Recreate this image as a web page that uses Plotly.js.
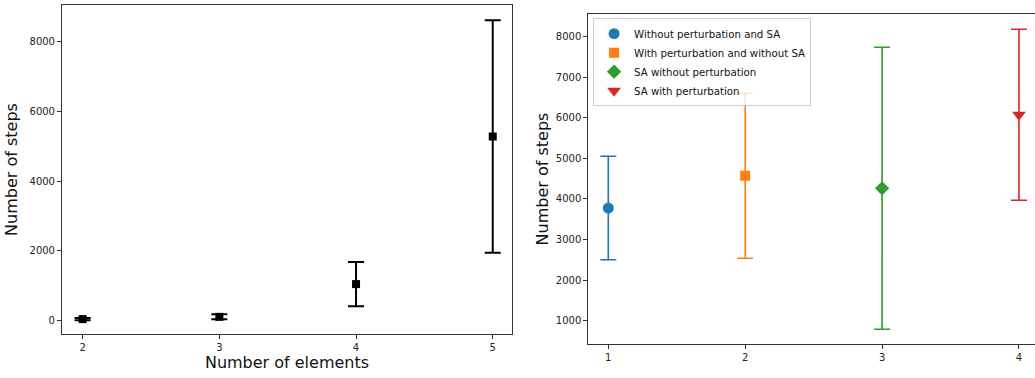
<!DOCTYPE html>
<html>
<head>
<meta charset="utf-8">
<script src="https://cdn.plot.ly/plotly-3.0.1.min.js"></script>
<style>html,body{margin:0;padding:0;background:#fff}#chart{width:1035px;height:378px}</style>
</head>
<body>
<div id="chart"></div>
<script>
// Left panel: number of elements vs number of steps
var elements = [2, 3, 4, 5];
var stepsMean = [45, 110, 1050, 5285];
var stepsErr = [35, 72, 635, 3335];

// Right panel: four methods
var methodNames = ["Without perturbation and SA", "With perturbation and without SA", "SA without perturbation", "SA with perturbation"];
var methodX = [1, 2, 3, 4];
var methodMean = [3777, 4571, 4263, 6075];
var methodErr = [1275, 2033, 3475, 2108];
var methodColors = ["#1f77b4", "#ff7f0e", "#2ca02c", "#d62728"];
var methodSymbols = ["circle", "square", "diamond", "triangle-down"];
var methodSizes = [11, 10, 11, 12];

var traces = [{
  x: elements, y: stepsMean, type: "scatter", mode: "markers",
  xaxis: "x", yaxis: "y", showlegend: false,
  marker: {symbol: "square", size: 8, color: "#000"},
  error_y: {type: "data", array: stepsErr, visible: true, color: "#000", thickness: 2, width: 8}
}];
for (var i = 0; i < methodNames.length; i++) {
  traces.push({
    x: [methodX[i]], y: [methodMean[i]], type: "scatter", mode: "markers",
    name: methodNames[i], xaxis: "x2", yaxis: "y2",
    marker: {symbol: methodSymbols[i], size: methodSizes[i], color: methodColors[i]},
    error_y: {type: "data", array: [methodErr[i]], visible: true, color: methodColors[i], thickness: 1.6, width: 8}
  });
}

var tickFont = {family: "DejaVu Sans", size: 10, color: "#222"};
var titleFont = {family: "DejaVu Sans", size: 16, color: "#111"};
var axBase = {showgrid: false, zeroline: false, showline: true, linecolor: "#333", linewidth: 1,
  ticks: "outside", ticklen: 4, tickcolor: "#333", tickfont: tickFont, automargin: false};

var layout = {
  width: 1035, height: 378,
  margin: {l: 0, r: 0, t: 0, b: 0},
  paper_bgcolor: "#fff", plot_bgcolor: "#fff",
  font: {family: "DejaVu Sans"},
  xaxis: Object.assign({}, axBase, {domain: [0.0599, 0.4947], range: [1.849, 5.141], tickvals: elements, mirror: true, anchor: "y",
    title: {text: "Number of elements", font: titleFont, standoff: 4}}),
  yaxis: Object.assign({}, axBase, {domain: [0.1164, 0.9868], range: [-382, 9059], tickvals: [0, 2000, 4000, 6000, 8000], mirror: true, anchor: "x",
    title: {text: "Number of steps", font: titleFont, standoff: 7}}),
  xaxis2: Object.assign({}, axBase, {domain: [0.5684, 1], range: [0.854, 4.117], tickvals: methodX, mirror: true, anchor: "y2"}),
  yaxis2: Object.assign({}, axBase, {domain: [0.09, 0.963], range: [426, 8559], tickvals: [1000, 2000, 3000, 4000, 5000, 6000, 7000, 8000], mirror: true, anchor: "x2",
    title: {text: "Number of steps", font: titleFont, standoff: 3}}),
  showlegend: true,
  legend: {x: 0.573, y: 0.952, xanchor: "left", yanchor: "top", bgcolor: "rgba(255,255,255,0.8)",
    bordercolor: "#ccc", borderwidth: 1, font: {family: "DejaVu Sans", size: 10.2, color: "#111"},
    tracegroupgap: 0, itemwidth: 30}
};

Plotly.newPlot("chart", traces, layout, {displayModeBar: false, staticPlot: true});
</script>
</body>
</html>
